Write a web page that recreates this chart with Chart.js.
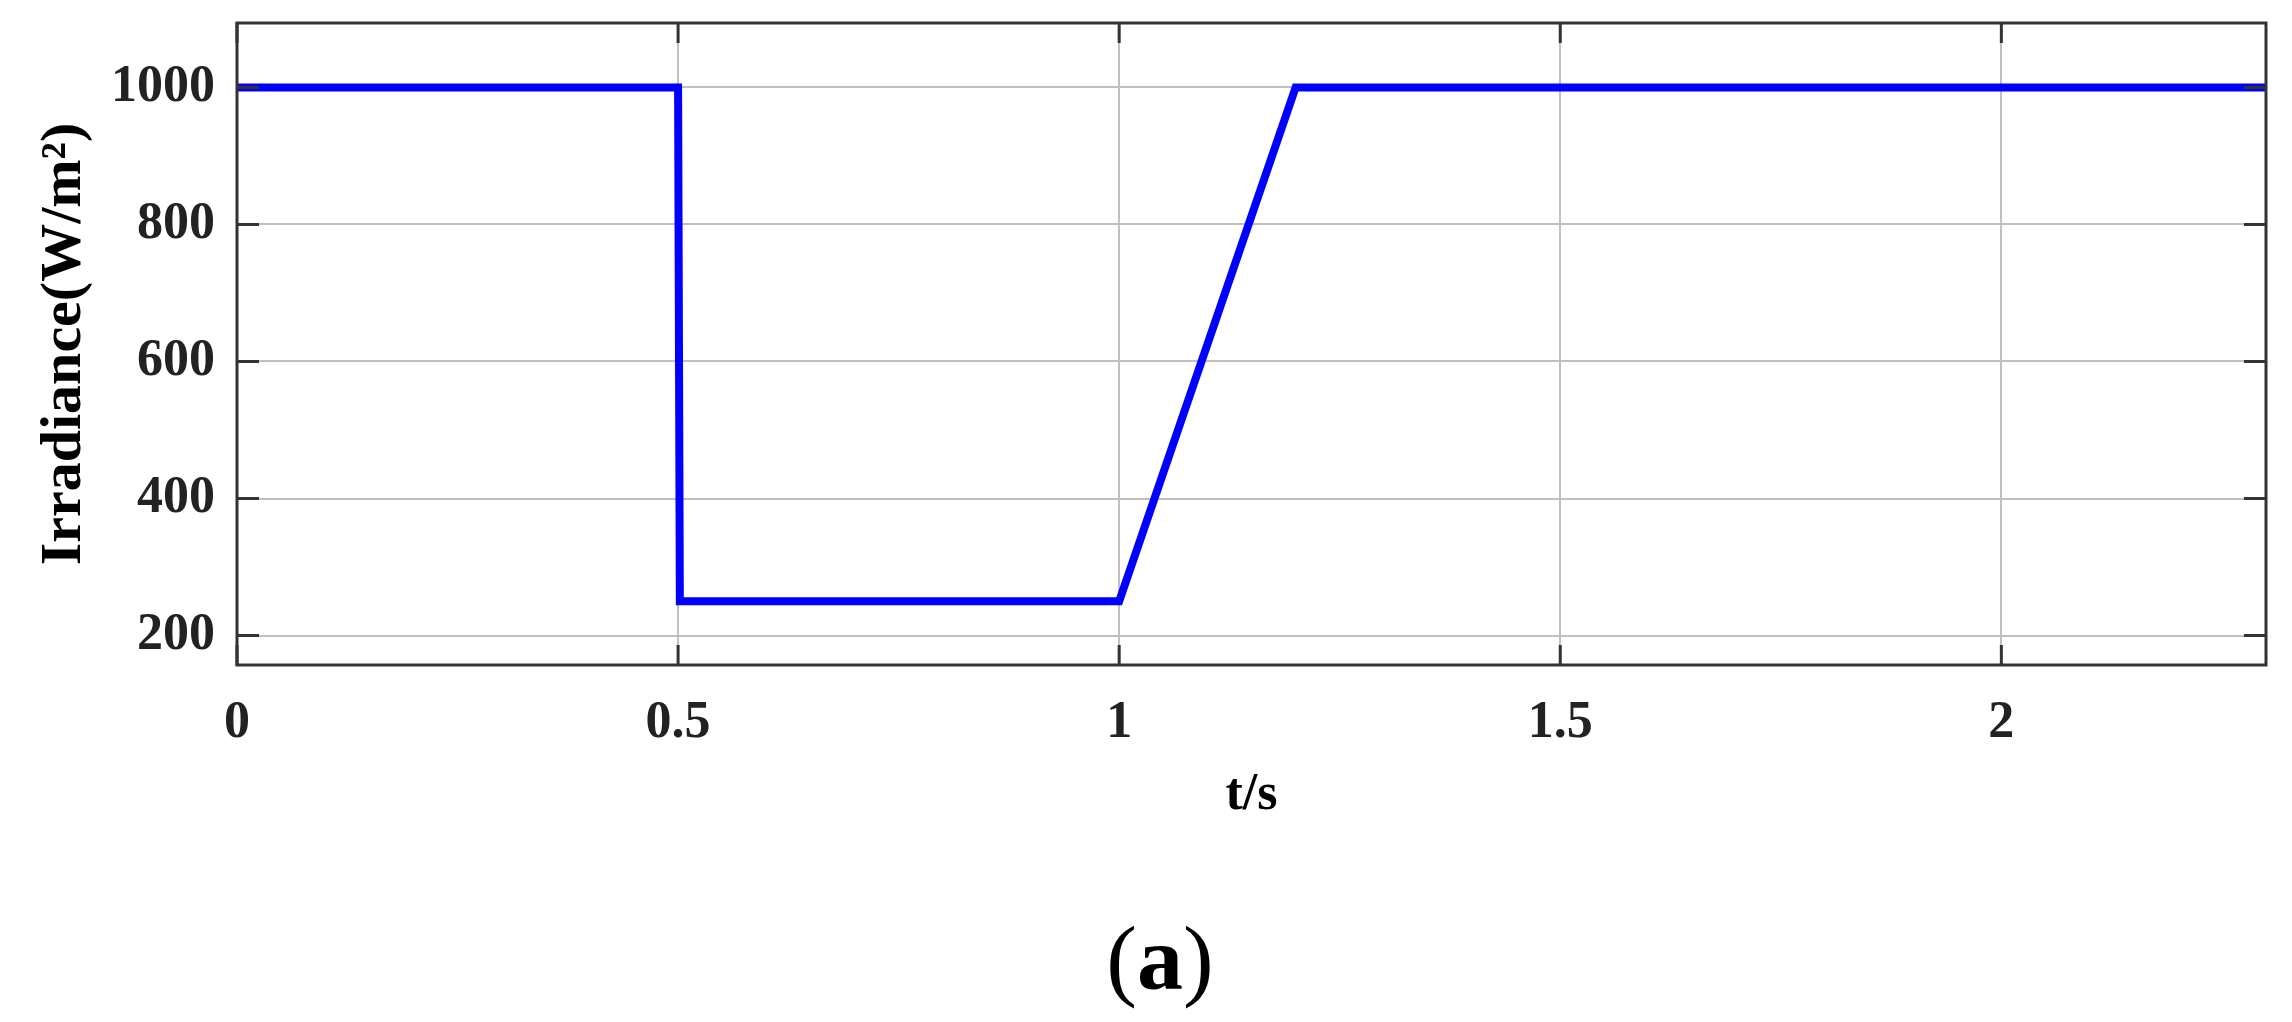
<!DOCTYPE html>
<html>
<head>
<meta charset="utf-8">
<script src="https://cdn.jsdelivr.net/npm/chart.js@4"></script>
<style>
  html, body { margin: 0; padding: 0; background: #fff; }
  .wrap { position: relative; width: 2292px; height: 1022px; }
  .caption {
    position: absolute; left: 1060px; width: 200px; top: 912px;
    text-align: center; font-family: "Liberation Serif", serif;
    font-size: 92px; color: #000; line-height: 1;
  }
</style>
</head>
<body>
<div class="wrap">
  <canvas id="irrChart" width="2292" height="1022"></canvas>
  <div class="caption">(<b>a</b>)</div>
</div>
<script>
// irradiance step profile
const timeS = [0, 0.5, 0.502, 1.0, 1.2, 2.3];
const irradiance = [1000, 1000, 250, 250, 1000, 1000];
const xTicks = [0, 0.5, 1, 1.5, 2];
const yTicks = [200, 400, 600, 800, 1000];

const points = timeS.map((t, i) => ({ x: t, y: irradiance[i] }));

// box around plot + inward tick marks (matlab style)
const frame = {
  id: "frame",
  afterDatasetsDraw(chart) {
    const { ctx, chartArea: a, scales } = chart;
    ctx.save();
    ctx.strokeStyle = "#333";
    ctx.lineWidth = 3;
    scales.x.ticks.forEach((t) => {
      const px = scales.x.getPixelForValue(t.value);
      ctx.beginPath();
      ctx.moveTo(px, a.bottom);
      ctx.lineTo(px, a.bottom - 20);
      ctx.moveTo(px, a.top);
      ctx.lineTo(px, a.top + 20);
      ctx.stroke();
    });
    scales.y.ticks.forEach((t) => {
      const py = scales.y.getPixelForValue(t.value);
      ctx.beginPath();
      ctx.moveTo(a.left, py);
      ctx.lineTo(a.left + 22, py);
      ctx.moveTo(a.right, py);
      ctx.lineTo(a.right - 22, py);
      ctx.stroke();
    });
    ctx.lineWidth = 3;
    ctx.strokeRect(a.left, a.top, a.right - a.left, a.bottom - a.top);
    ctx.restore();
  },
};

const tickFont = { family: "Liberation Serif", weight: "bold", size: 52 };

new Chart(document.getElementById("irrChart"), {
  type: "line",
  data: {
    datasets: [
      {
        label: "Irradiance",
        data: points,
        borderColor: "#0000ff",
        borderWidth: 8,
        pointRadius: 0,
        tension: 0,
        fill: false,
      },
    ],
  },
  options: {
    responsive: false,
    animation: false,
    layout: { padding: { left: 0, right: 26, top: 23, bottom: 187 } },
    plugins: { legend: { display: false }, tooltip: { enabled: false } },
    scales: {
      x: {
        type: "linear",
        min: 0,
        max: 2.3,
        afterFit: (s) => {
          s.height = 170;
          s.paddingLeft = 0;
          s.paddingRight = 0;
        },
        afterBuildTicks: (s) => { s.ticks = xTicks.map((v) => ({ value: v })); },
        grid: { color: "#c0c0c0", lineWidth: 2, drawTicks: false },
        border: { display: false },
        ticks: {
          font: tickFont,
          color: "#222",
          padding: 27,
          maxRotation: 0,
          callback: (v) => String(v),
        },
        title: {
          display: true,
          text: "t/s",
          font: { family: "Liberation Serif", weight: "bold", size: 52 },
          color: "#000",
          padding: { top: 0, bottom: 8 },
        },
      },
      y: {
        min: 157,
        max: 1094,
        afterFit: (s) => {
          s.width = 237;
          s.paddingTop = 0;
          s.paddingBottom = 0;
        },
        afterBuildTicks: (s) => { s.ticks = yTicks.map((v) => ({ value: v })); },
        grid: { color: "#c0c0c0", lineWidth: 2, drawTicks: false },
        border: { display: false },
        ticks: {
          font: tickFont,
          color: "#222",
          padding: 22,
          callback: (v) => String(v),
        },
        title: {
          display: true,
          text: "Irradiance(W/m²)",
          font: { family: "Liberation Serif", weight: "bold", size: 58 },
          color: "#000",
          padding: { top: 30, bottom: 0 },
        },
      },
    },
  },
  plugins: [frame],
});
</script>
</body>
</html>
